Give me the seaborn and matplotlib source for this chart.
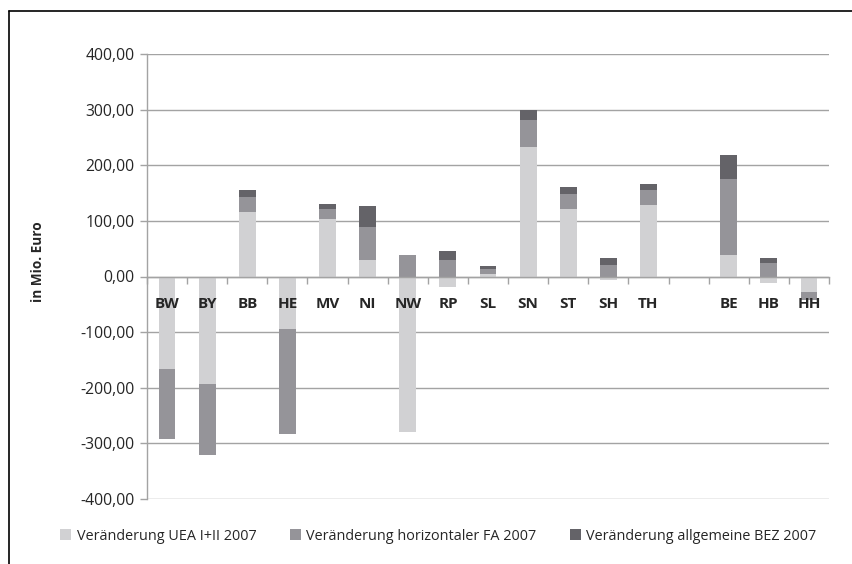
import matplotlib
matplotlib.use("Agg")
import matplotlib.pyplot as plt
import matplotlib.lines as mlines
from matplotlib.patches import Patch
from matplotlib.ticker import FuncFormatter, FixedLocator, NullFormatter
import seaborn as sns

# Länder (one blank slot separates the city states)
laender = ["BW", "BY", "BB", "HE", "MV", "NI", "NW", "RP", "SL",
           "SN", "ST", "SH", "TH", " ", "BE", "HB", "HH"]

# Changes in Mio. Euro
uea = [-166, -193, 116, -94, 104, 30, -280, -18, 5,
       233, 122, -6, 129, 0, 39, -11, -28]
hfa = [-126, -128, 27, -190, 18, 59, 39, 30, 9,
       49, 27, 21, 27, 0, 137, 25, -14]
bez = [0, 0, 13, 0, 9, 38, 0, 16, 5,
       18, 11, 13, 11, 0, 43, 9, 0]

series_names = ["Veränderung UEA I+II 2007",
                "Veränderung horizontaler FA 2007",
                "Veränderung allgemeine BEZ 2007"]
series_values = [uea, hfa, bez]
series_colors = ["#d1d1d3", "#959499", "#646368"]

yticks = [-400, -300, -200, -100, 0, 100, 200, 300, 400]

sns.set_theme(style="white")
plt.rcParams["font.family"] = ["Open Sans", "DejaVu Sans"]

fig = plt.figure(figsize=(8.53, 5.64), dpi=100)
ax = fig.add_axes([147 / 853, 1 - 499 / 564, (829 - 147) / 853, (499 - 54) / 564])

# stack positive values upward and negative values downward from zero
pos_acc = [0.0] * len(laender)
neg_acc = [0.0] * len(laender)
for name, vals, col in zip(series_names, series_values, series_colors):
    bottoms = []
    for i, v in enumerate(vals):
        if v >= 0:
            bottoms.append(pos_acc[i])
            pos_acc[i] += v
        else:
            bottoms.append(neg_acc[i])
            neg_acc[i] += v
    sns.barplot(x=laender, y=vals, order=laender, bottom=bottoms,
                color=col, saturation=1, width=0.42, errorbar=None,
                linewidth=0, ax=ax, zorder=3)

ax.set_ylim(-400, 400)
ax.set_xlim(-0.5, len(laender) - 0.5)
ax.set_yticks(yticks)
ax.yaxis.set_major_formatter(FuncFormatter(lambda v, p: f"{v:.2f}".replace(".", ",")))
ax.grid(axis="y", color="#a3a3a3", linewidth=1.0, zorder=0)
ax.grid(axis="x", visible=False)
ax.set_axisbelow(True)

for s in ["top", "right"]:
    ax.spines[s].set_visible(False)
ax.spines["left"].set_color("#a3a3a3")
ax.spines["left"].set_linewidth(1.0)
ax.spines["bottom"].set_position(("data", 0))
ax.spines["bottom"].set_color("#a3a3a3")
ax.spines["bottom"].set_linewidth(1.0)
ax.spines["bottom"].set_zorder(4)

ax.tick_params(axis="y", which="major", direction="out", length=5, width=1,
               color="#a3a3a3", left=True, labelsize=11.3, labelcolor="#262626", pad=4)

# ticks mark the category boundaries on the zero line
ax.xaxis.set_major_locator(FixedLocator([i + 0.5 for i in range(-1, len(laender))]))
ax.xaxis.set_major_formatter(NullFormatter())
ax.tick_params(axis="x", which="major", direction="out", length=5, width=1,
               color="#a3a3a3", bottom=True)

# category names sit just below the zero line, drawn over the bars
for i, lab in enumerate(laender):
    ax.annotate(lab, xy=(i, 0), xytext=(0, -28), textcoords="offset pixels",
                ha="center", va="center", fontsize=11, fontweight="bold",
                color="#262626", zorder=6, annotation_clip=False)

ax.set_xlabel("")
ax.set_ylabel("in Mio. Euro", fontsize=9.8, fontweight="bold", color="#262626")
ax.yaxis.set_label_coords((45 - 147) / 682, (499 - 262) / 445)

handles = [Patch(facecolor=c, edgecolor="none", label=n)
           for n, c in zip(series_names, series_colors)]
fig.legend(handles=handles, loc="center", bbox_to_anchor=(0.514, 1 - 536 / 564),
           ncol=3, frameon=False, fontsize=10.4, handlelength=0.75, handleheight=0.75,
           handletextpad=0.4, columnspacing=2.3, labelcolor="#262626")

# outer frame lines at the top and left
fig.add_artist(mlines.Line2D([8.5 / 853, 1], [1 - 11 / 564, 1 - 11 / 564],
                             color="black", linewidth=1.2, transform=fig.transFigure))
fig.add_artist(mlines.Line2D([8.5 / 853, 8.5 / 853], [0, 1 - 11 / 564],
                             color="black", linewidth=1.2, transform=fig.transFigure))

fig.savefig("out.png", dpi=100)
